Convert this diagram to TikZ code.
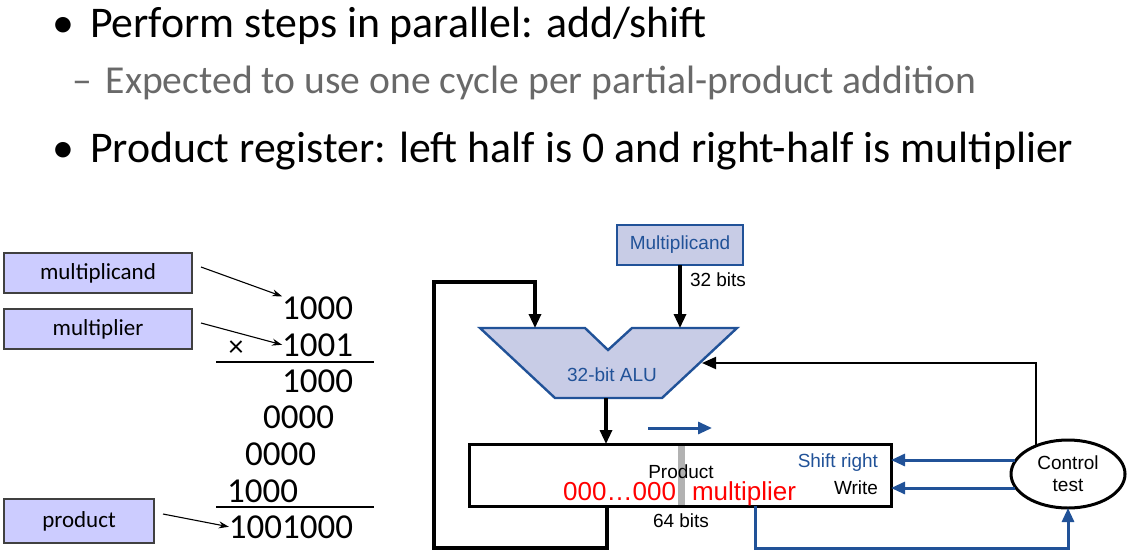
\documentclass[tikz,border=0pt]{standalone}
\usepackage{fontspec}
\setmainfont{Carlito}
\newfontfamily\helv{Liberation Sans}
\usetikzlibrary{arrows.meta,shapes.geometric}
\definecolor{dblue}{RGB}{33,82,152}
\definecolor{lav}{RGB}{204,204,255}
\definecolor{alufill}{RGB}{200,204,230}
\definecolor{gtext}{RGB}{105,105,105}
\definecolor{pred}{RGB}{255,0,0}
\begin{document}
\begin{tikzpicture}[x=1pt,y=-1pt,
  every node/.style={inner sep=0pt, outer sep=0pt},
  bigtxt/.style={anchor=base west, font=\fontsize{43.8}{52}\selectfont},
  subtxt/.style={anchor=base west, font=\fontsize{39.6}{46}\selectfont, text=gtext},
  lbox/.style={draw=black!75, line width=1.4pt, fill=lav, minimum height=40pt, font=\fontsize{23}{27}\selectfont},
  digit/.style={anchor=base east, font=\fontsize{35}{40}\selectfont},
  larr/.style={-{Stealth[length=10pt,width=7pt]}, line width=1.1pt},
  hv/.style={font=\helv\fontsize{19}{21}\selectfont},
  blk/.style={line width=3.2pt, -{Triangle[length=14pt,width=12pt]}},
  bl/.style={line width=3pt, draw=dblue, -{Triangle[length=14pt,width=12pt]}},
]
\useasboundingbox (0,0) rectangle (1131,550);
% headings
\node[bigtxt] (b1) at (52,37) {\textbullet};
\node[bigtxt] (t1) at (90,37) {Perform steps in parallel: add/shift};
\node[subtxt] (t2) at (72,93) {–\hspace{14pt}Expected to use one cycle per partial-product addition};
\node[bigtxt] (b3) at (52,162) {\textbullet};
\node[bigtxt] (t3) at (90,162) {Product register: left half is 0 and right-half is multiplier};

% left boxes
\node[lbox, minimum width=188pt] (mcb) at (98,273) {multiplicand};
\node[lbox, minimum width=188pt] (mpb) at (98,329) {multiplier};
\node[lbox, minimum width=150pt, minimum height=44pt] (pdb) at (79,521) {product};

% long multiplication
\node[digit] (r1) at (353,319) {1000};
\node[digit] (r2) at (353,356) {1001};
\node[anchor=base, font=\fontsize{30}{34}\selectfont] (times) at (236,356) {×};
\node[digit] (r3) at (353,392) {1000};
\node[digit] (r4) at (334,428) {0000};
\node[digit] (r5) at (316,465) {0000};
\node[digit] (r6) at (298,502) {1000};
\node[digit] (r7) at (353,538) {1001000};
\coordinate (l1a) at (216,362); \coordinate (l1b) at (374,362);
\coordinate (l2a) at (216,507); \coordinate (l2b) at (374,507);
\draw[line width=1.1pt] (l1a) -- (l1b);
\draw[line width=1.1pt] (l2a) -- (l2b);
\draw[larr] (mcb.east) ++(9,-6) -- (r1.north west);
\draw[larr] (201,323) -- (r2.west);
\draw[larr] (163,514) -- (r7.west);

% right diagram
\node[draw=dblue, line width=2.4pt, fill=alufill, minimum width=126pt, minimum height=40pt, hv, text=dblue] (mcand) at (680,245) {Multiplicand};
\node[hv, anchor=base west] (b32) at (690,286) {32 bits};
% ALU
\coordinate (a1) at (480,328);
\coordinate (a2) at (585,328);
\coordinate (a3) at (608,350);
\coordinate (a4) at (632,328);
\coordinate (a5) at (737,328);
\coordinate (a6) at (662,398);
\coordinate (a7) at (555,398);
\draw[draw=dblue, line width=2.4pt, fill=alufill, line join=miter] (a1) -- (a2) -- (a3) -- (a4) -- (a5) -- (a6) -- (a7) -- cycle;
\node[hv, text=dblue] (alu) at (612,375) {32-bit ALU};
\coordinate (aluA) at (535,328);
\coordinate (aluB) at (680,328);
\coordinate (aluO) at (606,398);
\coordinate (aluR) at (702,363);

% product register
\node[draw, line width=3pt, minimum width=422pt, minimum height=62pt] (prod) at (680,475) {};
\fill[black!30] (677.5,445.5) rectangle (684.5,504.5);
\node[hv, anchor=base] (ptxt) at (681,478) {Product};
\node[anchor=base east, font=\helv\fontsize{26}{28}\selectfont, text=pred] (zeros) at (676,500) {000…000};
\node[anchor=base west, font=\helv\fontsize{26}{28}\selectfont, text=pred] (mult) at (692,500) {multiplier};
\node[hv, anchor=base east, text=dblue] (shr) at (878,467) {Shift right};
\node[hv, anchor=base east] (wr) at (878,494) {Write};
\node[hv, anchor=base] (b64) at (681,527) {64 bits};
\coordinate (sh) at (648,428); \coordinate (she) at (712,428);
\draw[bl] (sh) -- (she);

% control
\node[draw, ellipse, line width=3pt, minimum width=114pt, minimum height=68pt, hv, align=center] (ctl) at (1068,474) {Control\\[1pt]test};

% connectors
\draw[blk] (mcand.south) -- (aluB);
\coordinate (lp1) at (607,548); \coordinate (lp2) at (434,548); \coordinate (lp3) at (434,282); \coordinate (lp4) at (535,282);
\draw[line width=3.2pt, line join=miter] (prod.south -| lp1) -- (lp1) -- (lp2) -- (lp3) -- (lp4) -- ++(0,1.6);
\draw[blk] (lp4) -- (aluA);
\draw[blk] (aluO) -- (aluO |- prod.north);
\coordinate (fb0) at (1036,447); \coordinate (fb1) at (1036,363);
\draw[line width=2pt, line join=miter, -{Triangle[length=14pt,width=12pt]}] (fb0) -- (fb1) -- (aluR);
\draw[bl] (ctl.west |- 0,460) ++(4,0) -- (prod.east |- 0,460);
\draw[bl] (ctl.west |- 0,488) ++(4,0) -- (prod.east |- 0,488);
\coordinate (bt1) at (755,548); \coordinate (bt2) at (1068,548);
\draw[bl, line join=miter] (prod.south -| bt1) -- (bt1) -- (bt2) -- (ctl.south);
\end{tikzpicture}
\end{document}
